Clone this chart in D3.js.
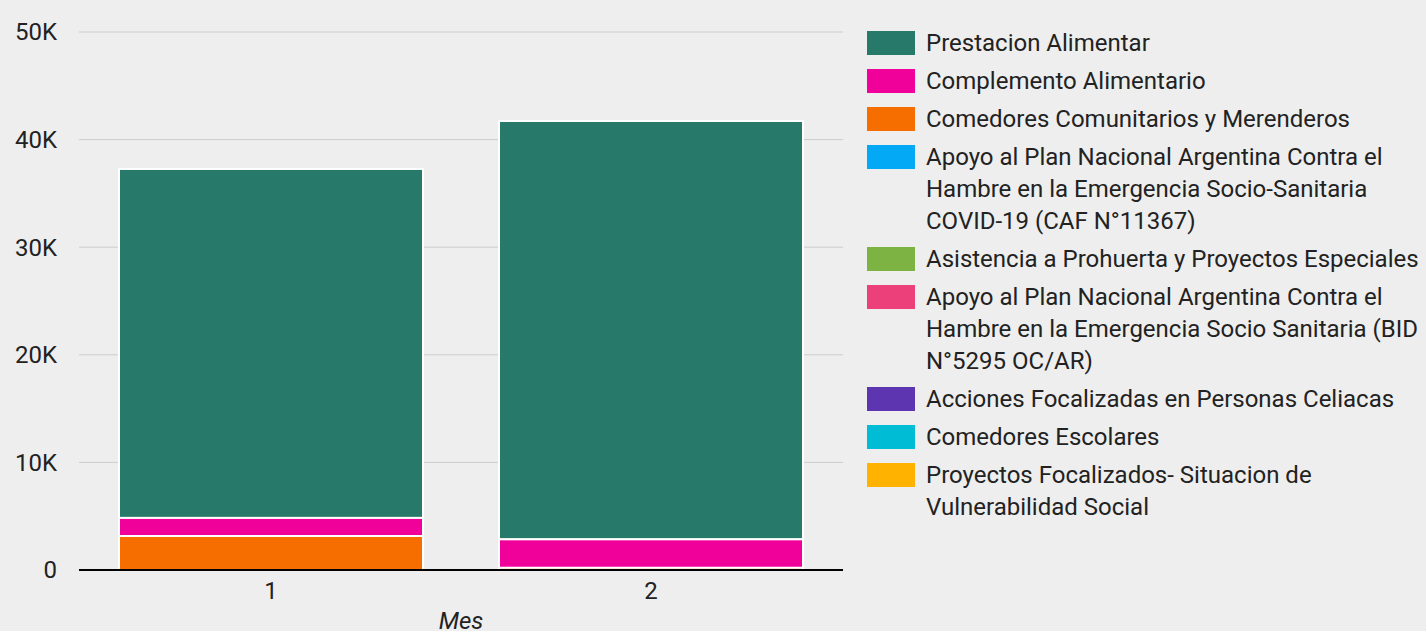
<!DOCTYPE html>
<html><head><meta charset="utf-8">
<script src="https://cdn.jsdelivr.net/npm/d3@7"></script>
<style>
html,body{margin:0;padding:0;background:#eeeeee;}
svg{display:block;font-family:Roboto, "Noto Sans", sans-serif;}
</style></head>
<body>
<svg id="chart" width="1426" height="631"></svg>
<script>
const categories = ["1", "2"];
const seriesNames = [
  "Prestacion Alimentar",
  "Complemento Alimentario",
  "Comedores Comunitarios y Merenderos",
  "Apoyo al Plan Nacional Argentina Contra el Hambre en la Emergencia Socio-Sanitaria COVID-19 (CAF N°11367)",
  "Asistencia a Prohuerta y Proyectos Especiales",
  "Apoyo al Plan Nacional Argentina Contra el Hambre en la Emergencia Socio Sanitaria (BID N°5295 OC/AR)",
  "Acciones Focalizadas en Personas Celiacas",
  "Comedores Escolares",
  "Proyectos Focalizados- Situacion de Vulnerabilidad Social"
];
const seriesColors = ["#277a69","#f0029a","#f76e00","#03a9f4","#7cb342","#ec407a","#5e35b1","#00bcd4","#ffb300"];
// values per series, per category (Mes 1, Mes 2)
const prestacionAlimentar = [32430, 38880];
const complementoAlimentario = [1680, 2650];
const comedoresComunitarios = [3160, 200];
const apoyoCAF = [0, 0];
const asistenciaProhuerta = [0, 0];
const apoyoBID = [0, 0];
const accionesCeliacas = [0, 0];
const comedoresEscolares = [0, 0];
const proyectosFocalizados = [0, 0];
const yTicks = [0, 10000, 20000, 30000, 40000, 50000];
const yTickLabels = ["0", "10K", "20K", "30K", "40K", "50K"];
const xTitle = "Mes";

const seriesValues = [prestacionAlimentar, complementoAlimentario, comedoresComunitarios, apoyoCAF,
  asistenciaProhuerta, apoyoBID, accionesCeliacas, comedoresEscolares, proyectosFocalizados];

const svg = d3.select("#chart");
const pLeft = 79, pRight = 843, pTop = 32, pBottom = 570;
const fs = 24;

const x = d3.scaleBand().domain(categories).range([pLeft + 2, pRight - 2]).paddingInner(0.2).paddingOuter(0.1);
const y = d3.scaleLinear().domain([0, 50000]).range([pBottom, pTop]);

// grid
svg.append("g").selectAll("line").data(yTicks.filter(d => d > 0)).join("line")
  .attr("x1", pLeft).attr("x2", pRight)
  .attr("y1", d => y(d)).attr("y2", d => y(d))
  .attr("stroke", "#cccccc").attr("stroke-width", 1);

// y labels
svg.append("g").selectAll("text").data(yTicks).join("text")
  .attr("x", 57).attr("y", d => y(d)).attr("dy", "0.35em")
  .attr("text-anchor", "end").attr("font-size", fs).attr("fill", "#222")
  .text((d, i) => yTickLabels[i]);

// stack (first series drawn on top)
const rows = categories.map((c, ci) => {
  const r = {cat: c};
  seriesNames.forEach((s, si) => r[s] = seriesValues[si][ci]);
  return r;
});
const stack = d3.stack().keys(seriesNames).order(d3.stackOrderReverse)(rows);

svg.append("g").selectAll("g").data(stack).join("g")
  .attr("fill", d => seriesColors[seriesNames.indexOf(d.key)])
  .selectAll("rect").data(d => d.filter(p => p[1] - p[0] > 0)).join("rect")
  .attr("x", d => x(d.data.cat))
  .attr("width", x.bandwidth())
  .attr("y", d => y(d[1]))
  .attr("height", d => Math.max(0, y(d[0]) - y(d[1])))
  .attr("stroke", "#ffffff").attr("stroke-width", 2);

// x axis line
svg.append("line").attr("x1", pLeft).attr("x2", pRight).attr("y1", pBottom).attr("y2", pBottom)
  .attr("stroke", "#000").attr("stroke-width", 2);

svg.append("g").selectAll("text").data(categories).join("text")
  .attr("x", d => x(d) + x.bandwidth() / 2).attr("y", 591).attr("dy", "0.35em")
  .attr("text-anchor", "middle").attr("font-size", fs).attr("fill", "#222").text(d => d);

svg.append("text").attr("x", (pLeft + pRight) / 2).attr("y", 621).attr("dy", "0.35em")
  .attr("text-anchor", "middle").attr("font-size", fs).attr("font-style", "italic").attr("fill", "#222")
  .text(xTitle);

// legend
const lg = svg.append("g");
const maxW = 503;
const lineH = 32, step = 38;
let cy = 43;
seriesNames.forEach((name, i) => {
  const g = lg.append("g");
  const t = g.append("text").attr("x", 926).attr("font-size", fs).attr("fill", "#222");
  const words = name.split(" ");
  let lines = [], cur = "";
  const probe = g.append("text").attr("font-size", fs);
  words.forEach(w => {
    const test = cur ? cur + " " + w : w;
    probe.text(test);
    if (probe.node().getComputedTextLength() > maxW && cur) { lines.push(cur); cur = w; }
    else cur = test;
  });
  lines.push(cur);
  probe.remove();
  lines.forEach((l, li) => {
    t.append("tspan").attr("x", 926).attr("y", cy + li * lineH).attr("dy", "0.35em").text(l);
  });
  g.append("rect").attr("x", 867).attr("y", cy - 12).attr("width", 48).attr("height", 24).attr("fill", seriesColors[i]);
  cy += (lines.length - 1) * lineH + step;
});
</script>
</body></html>
